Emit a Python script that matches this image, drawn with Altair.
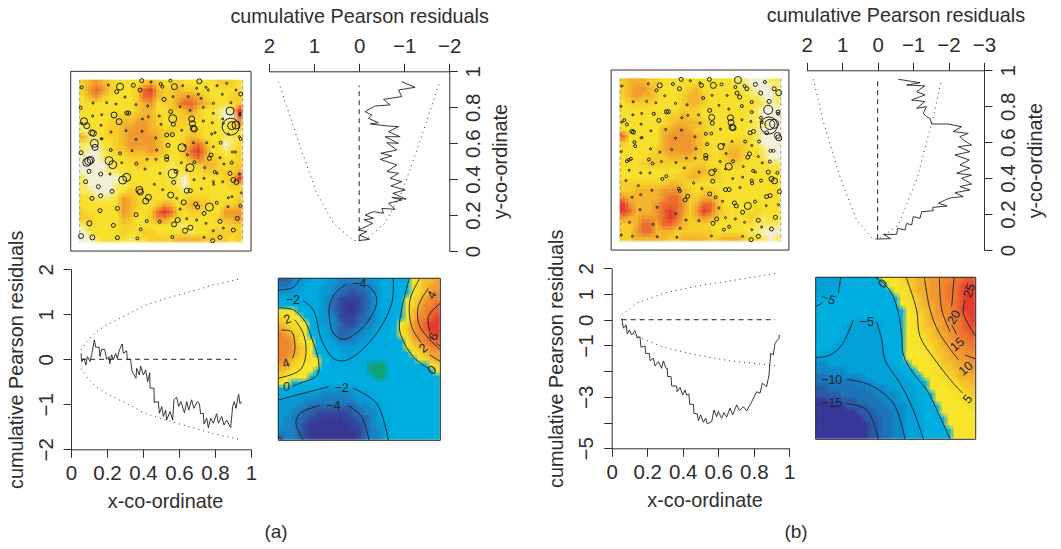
import altair as alt
import pandas as pd

PAD = 6
W, H = 1045 - 2 * PAD, 534 - 2 * PAD
M = 8 + PAD
INK = "#2e2e2e"
FONT = "Liberation Sans"

# ---- point pattern (digitised locations; same points in both analyses) ----
pt_x = [245,325,350,360,400,425,420,453,482,487,511,523,548,598,590,
        618,625,651,680,708,722,279,320,348,375,408,443,492,519,565,
        595,603,667,640,693,242,512,570,540,610,690,720,278,305,342,
        380,386,445,478,518,575,640,668,720,252,260,357,427,483,520,
        577,580,583,610,637,692,695,708,670,303,245,280,275,333,378,
        426,545,645,635,303,306,408,467,500,517,580,620,662,718,722,
        685,283,285,504,546,640,332,360,396,470,555,243,633,628,697,
        706,562,500,441,468,500,266,272,260,327,338,365,409,544,583,
        614,660,695,672,570,560,435,267,302,330,380,368,480,518,528,
        521,644,651,690,718,612,582,640,641,668,700,709,257,295,463,
        418,421,488,560,571,604,336,512,445,437,302,276,530,685,696,
        724,721,628,587,593,650,551,684,300,352,540,612,408,590,560,
        533,522,660,618,712,268,340,440,479,555,571,422,640,670,700,
        243,277,352,412,517,612,638,660]
pt_y = [262,255,275,260,256,242,270,246,252,260,242,260,257,244,265,
        262,270,257,250,270,282,309,308,312,291,314,318,298,290,290,
        283,295,283,310,308,323,335,331,320,322,333,340,348,344,345,
        339,339,350,348,356,357,340,357,345,364,377,365,357,373,373,
        371,385,387,363,368,380,377,375,370,376,370,400,398,396,392,
        394,391,398,402,417,416,418,414,405,404,428,428,428,410,417,
        402,430,442,436,443,440,450,460,452,450,437,458,465,475,456,
        456,464,470,478,478,478,483,480,487,482,494,488,491,488,487,
        503,473,488,492,503,510,507,514,522,522,532,540,520,521,514,
        547,516,520,520,522,535,539,545,553,545,540,546,545,560,553,
        570,576,569,572,572,566,574,585,592,603,587,595,595,593,590,
        578,617,621,612,621,608,607,620,632,625,627,640,644,660,656,
        660,673,664,670,655,670,676,663,665,692,683,688,692,684,690,
        708,712,713,715,711,712,722,712]
resid_a = [1.5,1,2,3.5,2,2,2,1,1.5,1.5,1.5,3,1,2.5,1,
           1,1,1,1,1,2,1,1,1,1,1,1,2,1,1,
           1,1,1,1,1,1.5,2,1,1,1,4,1,1,1,3,
           2,2,1,1,4,3,1,1,1,3.5,3,3,1,1,2,
           3,3,3,1,1,8.5,4,4,1,1,1,3,3,1,1,
           1,1,1,1,1,1,1,1,2,2,1,1,1.5,1,1.5,
           1,4,3,2,4,1,1.5,1.5,1,1,1,2,2,2,1,
           1,1,2,1,1,2,4,3.5,4,4,4,1,1.5,1,1.5,
           1,1,1.5,1,4,1,1,2,2,1,4,4,1,4.5,2,
           2,1.5,1,2,1,1,1,1,1,1,2.5,2.5,2,2,1,
           3.5,3,1,2.5,2,1,2,3,3,3,2,2,1,1,1,
           1,1.5,4,2,2,1.5,2.5,1,2,2,1,2,2,1,1,
           2.5,2.5,2,1,2,2.5,2,1.5,1.5,2.5,2.5,1.5,1,1,2,
           2.5,2.5,2,1.5,1.5,1,2,2]
resid_b = [1,1,1.5,2.5,1.5,2,2,1,1,2,2,3,1.5,3.5,1.5,
           1.5,2,2,1.5,2,3,1,1,1,1,1,1,1.5,1,1,
           2,2,2,1.5,2,1,2,1,1,1.5,4.5,2,1,1,1.5,
           2,2,1,1,3,3,1.5,1.5,1.5,1.5,1.5,2,1,1,2,
           3,3,3,1,1,8.5,5,4.5,1.5,1,1,2,2,1,1,
           1,1,2,2,1,1,1,1,1.5,1.5,1,1.5,1.5,3,3,
           2,1.5,1.5,1.5,3,1,1,1,1,1,1,1,2,2,1.5,
           1.5,1,2,1,1,2,1.5,1.5,1.5,1.5,1.5,1,1,1,1.5,
           1,1,1.5,1,3.5,1,1,1,1,1,1.5,1.5,1,3,1.5,
           2,1.5,1,2,1.5,1,1,1.5,1.5,1.5,2.5,3,1,1,1,
           1.5,1.5,1,2,2,1,1,2,2,2,1,1,1.5,2,2,
           2,1,3.5,2,2,1.5,1,1,1,1,1,2,1,1,1,
           2,2,2,1,2,1,1,1,1,1.5,1.5,1,1,1,2,
           1,1,1,1,1,1,2,2]
frame_lo, frame_hi = 212, 753

# ---- kernel-smoothed intensity, one digit per cell, rows from the top ----
image_a = [
 "345432222343223222223332","356532223674334332222222","245322223664334554322233",
 "222222223452335665432223","222222223442233453221017","222223334443223333221006",
 "122233445543223322222124","112233455544332233222122","411233455554322343222112",
 "110223455554322356422012","100123344454322467522123","000112233333222356433223",
 "000012223322212223443233","000011222222211222333334","100000122222211022222337",
 "100001122222221022222233","110001233222222122222222","221112543222222233322223",
 "222222543223542344322334","322222542236763233222555","332222432235532222223445",
 "132222332222221122222233","012222322332222212233333","001222212233334444333323"]
image_b = [
 "344433222222222221100011","345543222234222222110001","345443222344322222211001",
 "233332222344322222222101","222222222333222222221000","222222233433222222211000",
 "222222234444322222221100","222222445543322222211000","622222455554322222221000",
 "322222455554322233321000","222223455554322344322100","222233344443332344322100",
 "222333333333322233222211","222222222334433222222222","222222223344333222222222",
 "333333344322222222222222","334444555432332222222222","544444566433443222222222",
 "754445666534664222222222","764445676535764322223222","544555676434543222232122",
 "334664665433322222221111","335664443333332222211000","334444433444433444322101"]
image_levels = [0, 1, 2, 3, 4, 5, 6, 7]
image_colors = ["#f3f1d9", "#f8ea62", "#f9e02f", "#f7ce2b", "#f4b52d", "#f1982f", "#ec6c30", "#e73d2f"]

# ---- fitted smooth surfaces, one letter per cell, rows from the top ----
surf_a = [
 "ccdeefffeedddddeefffggijkkl","ddeefffeeddcccddefffggijkll","eeeffffeedccbccdefffggijklm",
 "fffffffedcbbbbcdefffgijklmm","gggffffedcbaabcdeffggijkmmn","iiiggffedcbaabcdeffggiklmnn",
 "jjiiggfeedbbbccdeffggikmmno","kjjiigfeedcbbcddeffgijlmnoo","lkjjiggfedcccddefffgiklmnoo",
 "mlkjiggfedccddeefffgijlmmno","mmljiigffedddeeffffggiklmnn","mmlkjigfffeeeeffffgggijklmm",
 "mmlkjiggfffeefffffggggijkll","mlkjjiiggffffffffggggggijkl","lljjiiiggffffffhhhgggggggij",
 "kjiiiigggggffffhhhggggggggi","jiiiiggggggggggghhggggggggg","ii",
 "fffffffeeeeeefffgggg","fffeeeedddddeeeffgg","eeeedddddddddeeeffgg",
 "eeeddccccccccddeeffg","eeddccbbbbbbccddeffg","eddccbbaaaabbccdeffg",
 "eddcbaaaaaaabbcdeefg","dddcbaaaaaaaabcddefg","cddcbaaaaaaaabcddefg"]
letters_a = "abcdefghijklmno"
levels_a = [-6, -5, -4, -3, -2, -1, -0.3, 0, 0.5, 1.5, 2.5, 3.5, 4.5, 5.5, 7]
colors_a = ["#3a3a96", "#34499f", "#2b66ae", "#1c82c4", "#0b9ad4", "#00abe0", "#00b0e2", "#13a477",
            "#f9e62c", "#f8d82b", "#f6bd2d", "#f3a22f", "#f08630", "#ec6430", "#e83c2e"]
surf_b = [
 "eeeeffffffgiiijkkllmmnnoopp","eeeefffffffgiijjkllmmnoopqq","eeefffffffffgiijkllmmnoopqq",
 "fffffffffffffgijjklmmnoopqq","fffffffffffffgiijkllmnnopqq","fffffffffffffggijkklmnnopqq",
 "ffffffffffffffgiijklmmnoopq","ffffffeeeeeffggiijkllmnnopq","fffffeeeeeeffggiijkklmmnopp",
 "fffffeeeeeeffggiiijkllmnoop","ffffeeeeeeeffggiiijkklmmnoo","fffeeeeeeeeefggiiijjkllmnno",
 "feeeeeeeeeeefggiiiijkklmmnn","eeeeeeeeeeeeffgiiiijjkllmmn","ddeeeeeeeeeeeffgiiiijkkllmm",
 "dddddeeeeeeeeeffgiiijjkkllm","ccddddddeeeeeeefggiiijjklll","cccccccdddeeeeeefggiiijjkkl",
 "bbcccccccdddeeeeefgiiiijjkk","bbbbccccccddddeeeffgiiiijjk","aabbbbbccccdddeeeffgiiiiijj",
 "aaaaabbbbcccdddeeefggiiiiij","aaaaaaabbbcccddeeeffg","aaaaaaaabbbccddeeeffgg",
 "aaaaaaaaabbccddeeeffgg","aaaaaaaaabbccddeeefffgg","aaaaaaaaabbccddeeefffgg"]
letters_b = "abcdefghijklmnopq"
levels_b = [-17, -14, -11, -9, -6.5, -3, -0.5, 0, 2, 4.5, 7, 10, 13, 16, 19, 22, 25]
colors_b = ["#39399a", "#2c5cab", "#1e76ba", "#118bc8", "#05a3d9", "#00afe1", "#00afe1", "#5aae4a",
            "#f9e52c", "#f9dc2c", "#f7c62d", "#f5ae2e", "#f39a2f", "#f08a30", "#ee7430", "#eb5830", "#e83c2e"]

# ---- contour lines, percent of panel ----
lines_a = [
 [(54.5,95.9),(59.7,90.7),(60.7,84.6),(56.6,75.3),(49.4,67.1),(40.1,62.3),(34,66),(31.5,76.3),(31.9,84.6),(36,91.8),(42.2,96.5)],
 [(15.4,86.2),(21.6,80.5),(26.7,61.9),(34,50.6),(39.7,49),(46.3,51.6),(60.7,66),(70,84.6),(71,100)],
 [(0,92.8),(9.3,94.4),(13.4,100)],
 [(0,81.9),(9.3,80.5),(16.5,73.3),(20.6,63),(24.7,49.6),(24.1,40.3),(13.4,35.2),(8.8,33.5)],
 [(10.3,74.3),(15.4,66),(17.1,53.7),(13.4,43.4),(0,38.3)],
 [(2,68),(8.2,67),(10.3,56.8),(8.8,50.6)],
 [(80.9,100),(76.1,80.5),(75.1,67),(83.3,51.6),(92.6,44.4)],
 [(87,99.4),(81.3,86.6),(82.3,70.2),(88.5,59.9)],
 [(93.6,52.7),(100,48.6)],
 [(92.6,93.8),(86.4,82.5),(87.4,70.2),(100,55.8)],
 [(100,84.6),(92.6,76.3),(93.6,67)],
 [(97.7,59.9),(100,58)],
 [(0,24.9),(30.9,33.1)],
 [(46.3,32.1),(60.7,22.8),(67.9,0)],
 [(15.4,0),(10.9,10.5),(13.4,16.7),(25.7,21.4)],
 [(43.2,21.4),(51.4,14.6),(56,0)],
 [(0,2.3),(2.7,0)],
]
labels_a = [("−4",50,96.5,0),("−2",9,86.6,0),("0",5.1,33.1,0),("2",5.6,74.7,340),("4",4.7,47.5,340),
            ("4",94.7,89.7,300),("6",95.7,64,300),("2",89.5,56.8,320),("0",95,43.4,320),
            ("−2",39.1,32.1,0),("−4",33.9,21.4,0)]
lines_b = [
 [(15.6,100),(14.2,90.1)],
 [(4.4,84.4),(0,81.9)],
 [(0,50.4),(8.9,52),(16.3,58.2),(23.5,73.7)],
 [(38.1,72.6),(41.3,61.3),(43.3,49),(52.7,34.6),(61,18.1),(67.3,0)],
 [(19.4,37),(34,33.5),(48.5,22.2),(55.8,0)],
 [(19.4,22.2),(31.9,18.1),(39.2,0)],
 [(37.1,100),(42.3,96.3),(47.5,90.1),(51.7,77.8),(53.8,63.4),(54.8,52.1),(61,40.7),(69.4,30.5),(76.7,16),(84,0)],
 [(56.5,100),(63.1,79.8),(65.2,63.4),(74.6,49),(86,34.6),(91.9,28.4)],
 [(67.9,100),(71.5,79.8),(76.7,66.5),(89.2,49)],
 [(77.3,100),(78.8,79.8),(84,66.5)],
 [(93.3,52),(100,49.6)],
 [(86.5,100),(85,81.9)],
 [(85,70.6),(88,65)],
 [(93.3,86),(92.3,77.8),(100,63.8)],
]
labels_b = [("−5",7.9,86.6,20),("−5",31.9,72.6,0),("−10",10,36.6,0),("−15",10,22.2,0),("0",42,96,320),
            ("5",95,24.9,310),("10",93.8,43.8,320),("15",88.5,58.6,320),("20",86.5,75.3,300),("25",96,91.8,290)]

# ---- cumulative residuals along x ----
ax_x = [.056,.059,.072,.083,.091,.106,.115,.13,.137,.156,.161,.17,.187,.198,.211,.215,.226,.235,.248,.257,.269,.285,.291,.309,.313,.331,.339,.361,.365,.38,.387,.402,.415,.426,.437,.439,.461,.463,.485,.491,.504,.513,.526,.531,.55,.565,.572,.587,.598,.611,.63,.643,.654,.67,.683,.702,.713,.72,.735,.739,.754,.763,.776,.791,.809,.819,.837,.85,.865,.887,.898,.907,.917,.931,.939,.948]
ax_r = [.13,-.05,.02,-.13,.06,-.05,.11,.43,.27,.27,.06,.22,.22,0,.06,-.10,.10,-.01,.13,.02,.21,.34,.13,.19,-.01,0,-.27,-.42,-.2,-.35,-.15,-.35,-.24,-.5,-.3,-.64,-.64,-.96,-.94,-1.2,-1.05,-1.27,-1.13,-1.35,-1.16,-1.35,-.9,-.84,-1.05,-.94,-1.19,-.94,-1.13,-.9,-1.09,-.94,-.98,-1.21,-1.2,-1.44,-1.31,-1.52,-1.31,-1.42,-1.21,-1.42,-1.27,-1.46,-1.35,-1.52,-1.05,-.94,-1.09,-.77,-.99,-.94]
env_ax = [.056,.087,.133,.198,.309,.402,.531,.643,.791,.939]
env_ah = [.207,.393,.593,.763,.985,1.185,1.356,1.481,1.652,1.785]
# ---- cumulative residuals along y ----
ay_r = [.015,-.229,-.007,-.17,.015,-.303,-.111,-.318,-.133,-.318,-.54,-.503,-.799,-.651,-.946,-.725,-1.043,-.747,-1.02,-.702,-.946,-.688,-.872,-.614,-.835,-.466,-.725,-.481,-.835,-.614,-.872,-.577,-.909,-.651,-.872,-.614,-.244,-.429,-.207,-.281,-.133,-.259,-.355,-.688,-.54,-.946,-.872,-1.242,-.946]
ay_y = [.058,.065,.089,.108,.117,.154,.173,.182,.2,.219,.21,.237,.232,.265,.284,.299,.288,.321,.34,.362,.386,.404,.432,.442,.479,.51,.529,.544,.562,.603,.599,.636,.636,.664,.692,.696,.707,.714,.738,.757,.775,.794,.807,.813,.844,.859,.896,.911,.942]
env_ay_r = [1.789,1.604,1.309,.939,.569,.126,-.126,-.569,-.939,-1.309,-1.604,-1.789]
env_ay_y = [.942,.803,.581,.321,.154,.058,.058,.154,.321,.581,.803,.942]

bx_x = [.056,.066,.081,.088,.099,.113,.131,.144,.159,.165,.188,.191,.212,.216,.235,.244,.263,.281,.291,.306,.313,.315,.334,.338,.366,.368,.385,.4,.413,.422,.435,.439,.46,.463,.482,.488,.501,.516,.529,.538,.563,.576,.591,.6,.619,.632,.647,.666,.681,.704,.719,.741,.76,.779,.788,.807,.816,.835,.848,.872,.886,.895,.91,.919,.942,.944]
bx_r = [.06,-.33,-.2,-.55,-.4,-.59,-.42,-.72,-.66,-1.07,-1.02,-1.31,-1.31,-1.59,-1.5,-1.8,-1.63,-1.89,-1.6,-1.89,-1.89,-2.21,-2.21,-2.58,-2.58,-2.8,-2.63,-2.93,-2.73,-2.93,-2.89,-3.29,-3.29,-3.64,-3.66,-3.92,-3.7,-3.99,-3.83,-4.05,-3.96,-3.51,-3.77,-3.57,-3.83,-3.61,-3.79,-3.44,-3.7,-3.31,-3.54,-3.38,-3.54,-3.31,-3.19,-2.93,-2.8,-2.86,-2.47,-2.6,-2.15,-1.31,-1.37,-.92,-.72,-.59]
env_bx = [.056,.141,.291,.478,.666,.938]
env_bh = [.19,.64,1.03,1.31,1.51,1.81]
env_bl = [-.19,-.64,-1.07,-1.37,-1.6,-1.8]
by_r = [.028,-.367,-.16,-.536,-.564,-.771,-.818,-.959,-1.006,-1.194,-1.241,-1.57,-1.551,-1.964,-1.711,-1.945,-2.086,-2.415,-2.18,-2.603,-2.321,-2.65,-2.368,-2.65,-2.227,-2.603,-2.321,-2.585,-2.18,-2.603,-2.274,-2.65,-2.415,-2.321,-2.556,-2.133,-2.368,-1.992,-1.523,-1.476,-1.382,-1.288,-1.382,-1.1,-1.335,-.959,-1.335,-1.1,-1.335,-.818,-1.194,-.583]
by_y = [.061,.063,.087,.087,.121,.111,.148,.139,.186,.176,.213,.219,.237,.245,.26,.282,.291,.297,.319,.334,.353,.367,.399,.417,.427,.455,.473,.501,.529,.547,.575,.584,.612,.631,.649,.659,.686,.701,.701,.733,.742,.761,.798,.788,.826,.835,.863,.881,.913,.918,.931,.95]
env_by_r = [1.814,1.532,1.062,.592,.122,-.066,-.583,-1.1,-1.57,-1.805]
env_by_y = [.95,.714,.408,.167,.059,.065,.139,.39,.742,.95]


def rng(a, b):
    return [a - M, b - M]


def sc(domain, page_range):
    return alt.Scale(domain=domain, range=rng(*page_range), nice=False, zero=False)


AX = dict(grid=False, domainColor=INK, tickColor=INK, labelColor=INK, titleColor=INK,
          labelFont=FONT, titleFont=FONT, labelFontSize=20.5, titleFontSize=19.8,
          titleFontWeight="normal", tickSize=8, labelFlush=False, labelOverlap=False,
          domainWidth=1, tickWidth=1)


def poly(xs, ys, xscale, yscale, xaxis=None, yaxis=None, **mark):
    df = pd.DataFrame({"x": xs, "y": ys, "i": range(len(xs))})
    return alt.Chart(df).mark_line(**mark).encode(
        x=alt.X("x:Q", scale=xscale, axis=xaxis),
        y=alt.Y("y:Q", scale=yscale, axis=yaxis),
        order="i:Q",
    )


# four slightly shifted, semi-transparent passes of the same cells soften the block edges
PASSES = [(-.25, -.25, 1), (.25, -.25, .5), (-.25, .25, .3333), (.25, .25, .25)]


def heat(rows, n_col, pad, letters, levels, colors, xr, yr):
    n_row = len(rows)
    col = alt.Scale(domain=levels, range=colors)
    out = []
    for dx, dy, op in PASSES:
        recs = []
        for j, row in enumerate(rows):
            for i, ch in enumerate(row.ljust(n_col, pad)[:n_col]):
                recs.append({"x": max(0, i + dx), "x2": min(n_col, i + 1 + dx),
                             "y": max(0, j + dy), "y2": min(n_row, j + 1 + dy),
                             "v": levels[letters.index(ch)]})
        out.append(alt.Chart(pd.DataFrame(recs)).mark_rect(strokeWidth=0.5, opacity=op).encode(
            x=alt.X("x:Q", scale=sc([0, n_col], xr), axis=None),
            x2="x2:Q",
            y=alt.Y("y:Q", scale=sc([0, n_row], yr), axis=None),
            y2="y2:Q",
            color=alt.Color("v:Q", scale=col, legend=None),
            stroke=alt.Stroke("v:Q", scale=col, legend=None),
        ))
    return out


def image_panel(rows, resid, xr, yr):
    xs, ys = sc([239, 728], xr), sc([240, 728], yr)
    out = heat(rows, 24, "2", "01234567", image_levels, image_colors, xr, yr)
    rug = pd.DataFrame({"x": [239, 728], "y": [240, 240], "y2": [728, 728]})
    out.append(alt.Chart(rug).mark_rule(color="#8a8a8a", strokeDash=[3, 3], strokeWidth=0.8).encode(
        x=alt.X("x:Q", scale=xs, axis=None), y=alt.Y("y:Q", scale=ys, axis=None), y2="y2:Q"))
    pts = pd.DataFrame({"x": pt_x, "y": pt_y, "r": resid})
    out.append(alt.Chart(pts).mark_point(shape="circle", filled=False, color="#1c1c1c", strokeWidth=1, opacity=1).encode(
        x=alt.X("x:Q", scale=xs, axis=None), y=alt.Y("y:Q", scale=ys, axis=None),
        size=alt.Size("r:Q", scale=alt.Scale(type="pow", exponent=2, domain=[0, 10], range=[0, 400]), legend=None)))
    fr = pd.DataFrame({"x": [frame_lo], "x2": [frame_hi], "y": [frame_lo + 2], "y2": [frame_hi]})
    out.append(alt.Chart(fr).mark_rect(fillOpacity=0, stroke=INK, strokeWidth=1).encode(
        x=alt.X("x:Q", scale=xs, axis=None), x2="x2:Q",
        y=alt.Y("y:Q", scale=ys, axis=None), y2="y2:Q"))
    return out


def surface_panel(rows, pad, letters, levels, colors, lines, labels, xr, yr):
    xs, ys = sc([0, 100], xr), sc([0, 100], (yr[1], yr[0]))
    out = heat(rows, 27, pad, letters, levels, colors, xr, yr)
    recs = [{"x": p[0], "y": p[1], "seg": s, "i": k} for s, ln in enumerate(lines) for k, p in enumerate(ln)]
    out.append(alt.Chart(pd.DataFrame(recs)).mark_line(color="#15202b", strokeWidth=0.9, interpolate="catmull-rom").encode(
        x=alt.X("x:Q", scale=xs, axis=None), y=alt.Y("y:Q", scale=ys, axis=None),
        detail="seg:N", order="i:Q"))
    lab = pd.DataFrame(labels, columns=["t", "x", "y", "a"])
    out.append(alt.Chart(lab).mark_text(font=FONT, fontSize=12.5, color="#1a2530").encode(
        x=alt.X("x:Q", scale=xs, axis=None), y=alt.Y("y:Q", scale=ys, axis=None),
        text="t:N", angle=alt.Angle("a:Q", scale=None)))
    fr = pd.DataFrame({"x": [0], "x2": [100], "y": [0], "y2": [100]})
    out.append(alt.Chart(fr).mark_rect(fillOpacity=0, stroke=INK, strokeWidth=1).encode(
        x=alt.X("x:Q", scale=xs, axis=None), x2="x2:Q",
        y=alt.Y("y:Q", scale=ys, axis=None), y2="y2:Q"))
    return out


def side_panel(y_r, y_y, env_r, env_y, zero_y, ticks, xr, yr, top_off, right_off):
    xs, ys = sc([ticks[0], ticks[-1]], xr), sc([0, 1], (yr[1], yr[0]))
    xaxis = alt.Axis(orient="top", offset=top_off, values=ticks, format="d", labelPadding=7,
                     title="cumulative Pearson residuals", titlePadding=10, **AX)
    yaxis = alt.Axis(orient="right", offset=right_off, values=[0, .2, .4, .6, .8, 1], format="~g",
                     labelAngle=270, labelBaseline="top", labelAlign="center", labelPadding=6,
                     title="y-co-ordinate", titleAngle=270, titlePadding=27, **AX)
    return [
        poly(y_r, y_y, xs, ys, xaxis=xaxis, yaxis=yaxis, color="#222222", strokeWidth=0.9),
        poly(env_r, env_y, xs, ys, color="#333333", strokeWidth=1, strokeDash=[1, 4]),
        poly([0, 0], zero_y, xs, ys, color="#222222", strokeWidth=1, strokeDash=[5, 4]),
    ]


def lower_panel(x_x, x_r, env_x, env_hi, env_lo, zero_x, ticks, hide, xr, yr, left_off, bottom_off):
    xs, ys = sc([0, 1], xr), sc([ticks[0], ticks[-1]], yr)
    expr = " || ".join(f"datum.value == {h}" for h in hide)
    extra = {"labelExpr": f"({expr}) ? '' : datum.label"} if hide else {}
    xaxis = alt.Axis(orient="bottom", offset=bottom_off, values=[0, .2, .4, .6, .8, 1], format="~g",
                     labelPadding=6, title="x-co-ordinate", titlePadding=8,
                     titleX=(xr[0] + xr[1]) / 2 + 4 - M, **AX)
    yaxis = alt.Axis(orient="left", offset=left_off, values=ticks, format="d", labelAngle=270,
                     labelPadding=7, title="cumulative Pearson residuals", titlePadding=10, **AX, **extra)
    return [
        poly(x_x, x_r, xs, ys, xaxis=xaxis, yaxis=yaxis, color="#222222", strokeWidth=0.9),
        poly(env_x, env_hi, xs, ys, color="#333333", strokeWidth=1, strokeDash=[1, 4]),
        poly(env_x, env_lo, xs, ys, color="#333333", strokeWidth=1, strokeDash=[1, 4]),
        poly(zero_x, [0, 0], xs, ys, color="#222222", strokeWidth=1, strokeDash=[5, 4]),
    ]


def caption(text, x_page, y_page):
    return alt.Chart(pd.DataFrame({"t": [text]})).mark_text(font=FONT, fontSize=19, color=INK).encode(
        text="t:N", x=alt.value(x_page - M), y=alt.value(y_page - M))


layers = []
layers += image_panel(image_a, resid_a, (79.7, 242.7), (80, 242.7))
layers += side_panel(ay_r, ay_y, env_ay_r, env_ay_y, [.06, .92], [2, 1, 0, -1, -2],
                     (269, 449.3), (71.3, 251), -(71.3 - M), 449.3 - M - W)
layers += lower_panel(ax_x, ax_r, env_ax, env_ah, [-v for v in env_ah], [.056, .92],
                      [2, 1, 0, -1, -2], [], (71, 251), (269.3, 449.3), -(71 - M), 449.3 - M - H)
layers += surface_panel(surf_a, "g", letters_a, levels_a, colors_a, lines_a, labels_a, (278.3, 440.3), (278.3, 440.3))
layers += image_panel(image_b, resid_b, (620, 780.7), (78.7, 241.7))
layers += side_panel(by_r, by_y, env_by_r, env_by_y, [.06, .95], [2, 1, 0, -1, -2, -3],
                     (806.7, 984), (70.3, 250), -(70.3 - M), 984 - M - W)
layers += lower_panel(bx_x, bx_r, env_bx, env_bh, env_bl, [.056, .92],
                      [2, 1, 0, -1, -2, -3, -4, -5], [-2, -4], (611.7, 789.3), (268.3, 448.3), -(611.7 - M), 448.3 - M - H)
layers += surface_panel(surf_b, "i", letters_b, levels_b, colors_b, lines_b, labels_b, (815.7, 975.7), (277.3, 439.3))
layers += [caption("(a)", 276, 532), caption("(b)", 796, 532)]

chart = alt.layer(*layers).resolve_scale(
    x="independent", y="independent", color="independent", stroke="independent", size="independent"
).properties(
    width=W, height=H, padding=PAD, background="white",
    autosize=alt.AutoSizeParams(type="none"),
).configure_view(stroke=None)

chart.save("out.html", embed_options={"renderer": "svg", "actions": False})
